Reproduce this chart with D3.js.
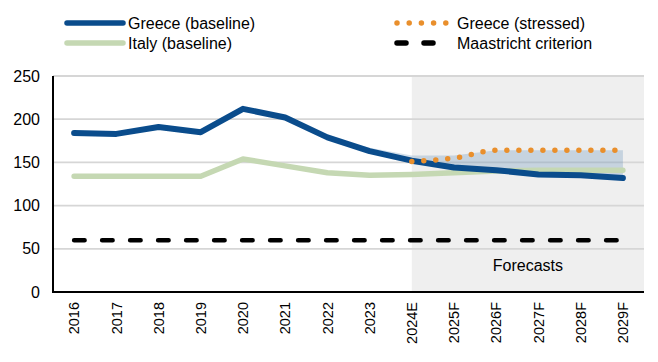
<!DOCTYPE html>
<html>
<head>
<meta charset="utf-8">
<script src="https://cdn.jsdelivr.net/npm/d3@7"></script>
<style>
  body { margin: 0; background: #fff; }
  svg { display: block; font-family: "Liberation Sans", Arial, sans-serif; }
</style>
</head>
<body>
<svg id="chart" width="658" height="362"></svg>
<script>
// Chart data.
var years = ["2016", "2017", "2018", "2019", "2020", "2021", "2022", "2023",
             "2024E", "2025F", "2026F", "2027F", "2028F", "2029F"];
var greeceBaseline = [184, 183, 191, 185, 212, 202, 179, 163, 152, 144, 141, 136, 135, 132];
var italyBaseline = [134, 134, 134, 134, 154, 146, 138, 135, 136, 138, 140, 141, 141, 141];
var greeceStressed = [null, null, null, null, null, null, null, null, 151, 155, 164, 164, 164, 164];
var bandUpper = [null, null, null, null, null, null, 179, 167, 158, 158, 164, 164, 164, 164];
var maastricht = [60, 60, 60, 60, 60, 60, 60, 60, 60, 60, 60, 60, 60, 60];
var yTicks = [0, 50, 100, 150, 200, 250];
var forecastStart = "2024E";

var my = {
  left: 53, right: 644, top: 76, bottom: 292,
  colors: {
    greece: "#0a4c8c",
    italy: "#c5d8b3",
    stressed: "#e98f2c",
    band: "#4a7eae",
    grid: "#d6d6d6",
    shade: "#efefef"
  }
};

var svg = d3.select("#chart");
var x = d3.scaleBand().domain(years).range([my.left, my.right]).padding(0);
var cx = function(d) { return x(d) + x.bandwidth() / 2; };
var y = d3.scaleLinear().domain([0, 250]).range([my.bottom, my.top]);

// Forecast shading.
svg.append("rect")
  .attr("x", cx(forecastStart)).attr("y", my.top)
  .attr("width", my.right - cx(forecastStart)).attr("height", my.bottom - my.top)
  .attr("fill", my.colors.shade);

// Gridlines.
svg.append("g").selectAll("line").data(yTicks.filter(function(t) { return t > 0; }))
  .join("line")
  .attr("x1", my.left).attr("x2", my.right)
  .attr("y1", function(d) { return y(d); }).attr("y2", function(d) { return y(d); })
  .attr("stroke", my.colors.grid).attr("stroke-width", 1.8);

// Stressed band between baseline and upper bound.
var bandData = years.map(function(d, i) { return {year: d, lo: greeceBaseline[i], hi: bandUpper[i]}; })
  .filter(function(d) { return d.hi !== null; });
svg.append("path").datum(bandData)
  .attr("d", d3.area()
    .x(function(d) { return cx(d.year); })
    .y0(function(d) { return y(d.lo); })
    .y1(function(d) { return y(d.hi); }))
  .attr("fill", my.colors.band).attr("fill-opacity", 0.25);

function series(values) {
  return years.map(function(d, i) { return {year: d, v: values[i]}; })
    .filter(function(d) { return d.v !== null; });
}
var line = d3.line().x(function(d) { return cx(d.year); }).y(function(d) { return y(d.v); });

// Maastricht criterion.
svg.append("path").datum(series(maastricht))
  .attr("d", line).attr("fill", "none")
  .attr("stroke", "#000").attr("stroke-width", 4.5)
  .attr("stroke-dasharray", "10.5,17.5").attr("stroke-linecap", "round");

// Italy baseline.
svg.append("path").datum(series(italyBaseline))
  .attr("d", line).attr("fill", "none")
  .attr("stroke", my.colors.italy).attr("stroke-width", 5.5)
  .attr("stroke-linejoin", "round").attr("stroke-linecap", "round");

// Greece baseline.
svg.append("path").datum(series(greeceBaseline))
  .attr("d", line).attr("fill", "none")
  .attr("stroke", my.colors.greece).attr("stroke-width", 6)
  .attr("stroke-linejoin", "round").attr("stroke-linecap", "round");

// Greece stressed, dotted.
svg.append("path").datum(series(greeceStressed))
  .attr("d", line.curve(d3.curveMonotoneX)).attr("fill", "none")
  .attr("stroke", my.colors.stressed).attr("stroke-width", 5.5)
  .attr("stroke-dasharray", "0,12").attr("stroke-linecap", "round");
line.curve(d3.curveLinear);

// Axes lines.
svg.append("line").attr("x1", my.left).attr("x2", my.left)
  .attr("y1", my.top).attr("y2", my.bottom + 1)
  .attr("stroke", "#000").attr("stroke-width", 2);
svg.append("line").attr("x1", my.left - 1).attr("x2", my.right)
  .attr("y1", my.bottom).attr("y2", my.bottom)
  .attr("stroke", "#000").attr("stroke-width", 2);

// Y tick labels.
svg.append("g").selectAll("text").data(yTicks).join("text")
  .attr("x", 40).attr("y", function(d) { return y(d); })
  .attr("dy", "0.35em").attr("text-anchor", "end")
  .attr("font-size", 16).attr("fill", "#000")
  .text(function(d) { return d; });

// X tick labels, rotated.
svg.append("g").selectAll("text").data(years).join("text")
  .attr("transform", function(d) { return "translate(" + cx(d) + ",302) rotate(-90)"; })
  .attr("dy", "0.36em").attr("text-anchor", "end")
  .attr("font-size", 14.5).attr("fill", "#000")
  .text(function(d) { return d; });

// Forecasts label.
svg.append("text")
  .attr("x", (cx(forecastStart) + my.right) / 2).attr("y", 271)
  .attr("text-anchor", "middle").attr("font-size", 16).attr("fill", "#000")
  .text("Forecasts");

// Legend.
var legend = [
  {label: "Greece (baseline)", x: 67, y: 23, color: my.colors.greece, dash: null},
  {label: "Italy (baseline)", x: 67, y: 43, color: my.colors.italy, dash: null},
  {label: "Greece (stressed)", x: 397, y: 23, color: my.colors.stressed, dash: "0,12.2"},
  {label: "Maastricht criterion", x: 397, y: 43, color: "#000", dash: "9,18"}
];
var lg = svg.append("g").selectAll("g").data(legend).join("g");
lg.append("line")
  .attr("x1", function(d) { return d.x; })
  .attr("x2", function(d) { return d.dash ? d.x + 49 : d.x + 56; })
  .attr("y1", function(d) { return d.y; }).attr("y2", function(d) { return d.y; })
  .attr("stroke", function(d) { return d.color; })
  .attr("stroke-width", 5.5).attr("stroke-linecap", "round")
  .attr("stroke-dasharray", function(d) { return d.dash; });
lg.append("text")
  .attr("x", function(d) { return d.dash ? d.x + 60 : d.x + 61; })
  .attr("y", function(d) { return d.y; }).attr("dy", "0.35em")
  .attr("font-size", 16).attr("fill", "#000")
  .text(function(d) { return d.label; });
</script>
</body>
</html>
